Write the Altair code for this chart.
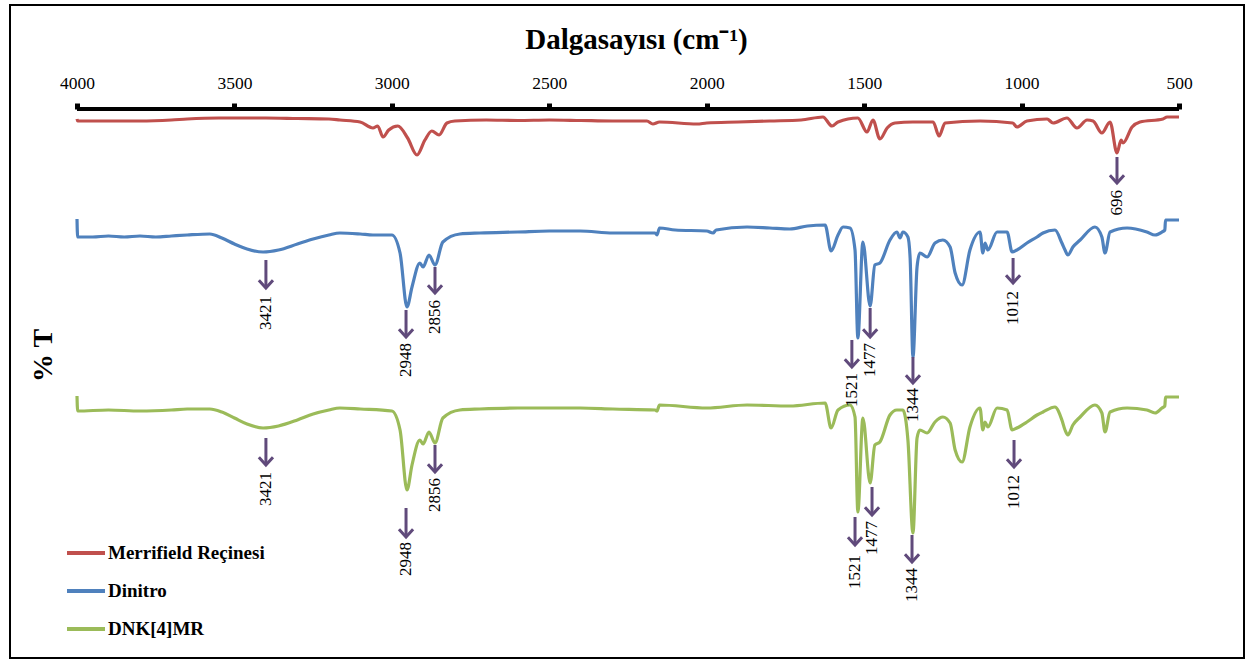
import altair as alt
import pandas as pd

# ---- data (wavenumber cm-1, %T with vertical offsets, arbitrary units) ----
merrifield_w = [4000, 3998, 3900, 3800, 3700, 3650, 3550, 3400, 3300, 3200, 3165, 3101, 3060, 3045, 3028, 3010,
                2981, 2950, 2920, 2895, 2873, 2850, 2825, 2800, 2700, 2600, 2500, 2400, 2300, 2190, 2171, 2150,
                2031, 2000, 1900, 1800, 1700, 1631, 1602, 1583, 1520, 1491, 1472, 1450, 1427, 1402, 1345, 1281,
                1262, 1243, 1132, 1028, 1015, 983, 919, 900, 856, 824, 792, 773, 745, 719, 697, 684, 678, 649,
                624, 551, 538, 500]
merrifield_t = [539, 537, 537, 537, 538, 539, 540, 540, 539.5, 539, 538, 536, 530, 532, 521, 528,
                532, 520, 503, 518, 527, 523, 535, 537, 538, 537.5, 538, 537.5, 537, 537, 534, 536,
                534, 535, 536, 537, 538, 541, 532, 536, 540, 526, 538, 519, 530, 535, 536, 536,
                522, 535, 537, 535, 531, 537, 539, 535, 540, 530, 538, 537, 525, 536, 505, 518, 515, 531,
                536, 539, 541, 541]

dinitro_w = [4000, 3998, 3950, 3900, 3850, 3800, 3750, 3700, 3650, 3578, 3540, 3500, 3460, 3409, 3360, 3300,
             3250, 3200, 3165, 3100, 3060, 3000, 2974, 2952, 2936, 2911, 2901, 2882, 2863, 2838, 2784, 2720,
             2600, 2500, 2402, 2298, 2164, 2158, 2150, 2100, 2000, 1980, 1970, 1872, 1800, 1736, 1680, 1624,
             1605, 1583, 1567, 1545, 1529, 1520, 1504, 1481, 1466, 1450, 1418, 1396, 1386, 1377, 1361, 1354,
             1345, 1332, 1323, 1300, 1275, 1250, 1227, 1211, 1189, 1164, 1132, 1123, 1116, 1107, 1078, 1046,
             1030, 1015, 983, 951, 932, 894, 872, 862, 853, 837, 814, 767, 745, 735, 719, 665, 602, 576, 554,
             545, 543, 500]
dinitro_t = [439, 421, 421, 422, 421, 422, 421, 422, 423, 424, 420, 414, 409, 406, 408, 414,
             419, 423, 425, 424, 423, 423, 405, 351, 371, 395, 391, 403, 393, 416, 424, 425,
             426, 427, 427, 425, 425, 423, 430, 428, 427, 425, 428, 431, 430, 429, 432, 433,
             407, 423, 431, 430, 408, 320, 416, 352, 393, 395, 418, 426, 420, 426, 421, 400,
             301, 391, 405, 401, 415, 418, 411, 385, 373, 408, 426, 405, 415, 408, 426, 426,
             406, 408, 415, 421, 425, 428, 415, 408, 403, 411, 418, 431, 421, 405, 426, 430, 426, 423, 426,
             428, 438, 438]

dnk_w = [4000, 3998, 3900, 3800, 3700, 3650, 3578, 3540, 3500, 3460, 3409, 3360, 3300, 3250, 3200, 3165,
         3100, 3000, 2974, 2952, 2936, 2911, 2901, 2882, 2863, 2838, 2784, 2720, 2600, 2500, 2402, 2298,
         2164, 2158, 2150, 2000, 1872, 1736, 1624, 1605, 1583, 1545, 1529, 1520, 1504, 1481, 1466, 1450,
         1418, 1396, 1377, 1361, 1345, 1332, 1323, 1300, 1275, 1250, 1227, 1211, 1189, 1164, 1132, 1123,
         1116, 1107, 1078, 1046, 1030, 1015, 983, 951, 932, 894, 872, 862, 853, 837, 814, 767, 745, 735,
         719, 665, 602, 576, 554, 545, 543, 500]
dnk_t = [262, 247, 248, 247, 248, 249, 249, 246, 240, 234, 230, 232, 238, 244, 248, 250,
         249, 247, 228, 168, 193, 218, 214, 226, 215, 240, 248, 249, 250, 250, 250, 249,
         248, 247, 253, 250, 253, 252, 255, 230, 248, 253, 241, 146, 240, 175, 213, 216,
         243, 248, 248, 218, 125, 220, 228, 225, 236, 241, 235, 208, 196, 231, 250, 228,
         236, 231, 250, 248, 228, 230, 236, 243, 246, 251, 238, 228, 223, 233, 241, 253, 245, 226,
         246, 250, 248, 245, 250, 252, 261, 261]

series_names = ["Merrifield Reçinesi", "Dinitro", "DNK[4]MR"]
series_colors = ["#C0504D", "#4F81BD", "#9BBB59"]

# peak annotations: label, arrow position (cm-1), arrow top, arrow tip, label top (same units as %T)
peak_labels = ["696", "3421", "2948", "2856", "1521", "1477", "1344", "1012",
               "3421", "2948", "2856", "1521", "1477", "1344", "1012"]
peak_w = [697, 3400, 2955, 2863, 1539, 1481, 1345, 1027,
          3400, 2955, 2863, 1529, 1475, 1348, 1024]
arrow_top = [501, 398, 348, 391, 318, 350, 301, 400,
             220, 150, 213, 141, 171, 123, 218]
arrow_tip = [475, 370, 321, 365, 291, 321, 275, 375,
             193, 121, 186, 113, 143, 96, 191]
label_top = [468, 362, 315, 358, 285, 315, 270, 367,
             186, 116, 180, 103, 137, 90, 183]

x_ticks = [4000, 3500, 3000, 2500, 2000, 1500, 1000, 500]
axis_level = 549

# ---- tables ----
rows = []
for name, ws, ts in zip(series_names, [merrifield_w, dinitro_w, dnk_w], [merrifield_t, dinitro_t, dnk_t]):
    for i, (w, t) in enumerate(zip(ws, ts)):
        rows.append({"seri": name, "w": w, "t": t, "i": i})
spectra = pd.DataFrame(rows)

peaks = pd.DataFrame({"etiket": peak_labels, "w": peak_w, "t": arrow_top, "t2": arrow_tip, "tl": label_top})
axis_df = pd.DataFrame({"w": [x_ticks[0]], "w2": [x_ticks[-1]], "t": [axis_level]})

SERIF = "Liberation Serif"
ARROW = "#604A7B"

xscale = alt.Scale(domain=[293.6, 4212.8], reverse=True, nice=False, zero=False)
yscale = alt.Scale(domain=[0, 653], nice=False, zero=False)

xaxis = alt.Axis(orient="top", values=x_ticks, format="d", offset=-104, domain=False, grid=False,
                 tickSize=6, tickWidth=5, tickColor="black", labelFont=SERIF, labelFontSize=17.5,
                 labelColor="black", labelPadding=11, labelFlush=False, labelOverlap=False,
                 title="Dalgasayısı (cm⁻¹)", titleFont=SERIF, titleFontSize=29, titleFontWeight="bold",
                 titleColor="black", titleX=626, titleY=-61, titleAlign="center", titleBaseline="alphabetic")
yaxis = alt.Axis(orient="left", domain=False, ticks=False, labels=False, grid=False,
                 title="% T", titleFont=SERIF, titleFontSize=28, titleFontWeight="bold", titleColor="black",
                 titleAngle=270, titleX=33, titleY=350, titleAlign="center", titleBaseline="middle")

X = alt.X("w:Q", scale=xscale, axis=xaxis)
Y = alt.Y("t:Q", scale=yscale, axis=yaxis)

lines = alt.Chart(spectra).mark_line(strokeWidth=3.2, interpolate="monotone").encode(
    x=X, y=Y,
    order=alt.Order("i:Q"),
    color=alt.Color("seri:N",
                    scale=alt.Scale(domain=series_names, range=series_colors),
                    sort=series_names,
                    legend=alt.Legend(orient="none", legendX=55, legendY=527, title=None,
                                      symbolType="stroke", symbolSize=1444, symbolStrokeWidth=4,
                                      labelFont=SERIF, labelFontWeight="bold", labelFontSize=19,
                                      labelColor="black", rowPadding=7, labelOffset=1, padding=0)),
)

axis_line = alt.Chart(axis_df).mark_rule(strokeWidth=4, color="black").encode(
    x=X, x2="w2:Q", y=Y)

shafts = alt.Chart(peaks).mark_rule(strokeWidth=3, color=ARROW).encode(x=X, y=Y, y2="t2:Q")
heads = alt.Chart(peaks).mark_point(shape="M-1,-1.1L0,0L1,-1.1", filled=False, size=200,
                                    strokeWidth=3, color=ARROW, opacity=1).encode(
    x=X, y=alt.Y("t2:Q", scale=yscale, axis=yaxis))
texts = alt.Chart(peaks).mark_text(angle=270, align="right", baseline="middle", font=SERIF,
                                   fontSize=17, color="black").encode(
    x=X, y=alt.Y("tl:Q", scale=yscale, axis=yaxis), text="etiket:N")

chart = alt.layer(lines, axis_line, shafts, heads, texts).properties(
    width=1234, height=653,
    autosize=alt.AutoSizeParams(type="none"),
    padding={"left": 10, "top": 5, "right": 6, "bottom": 3},
    background="white",
).configure_view(stroke="black", strokeWidth=2, fill="white")

chart.save("out.html", embed_options={"renderer": "svg", "actions": False})
